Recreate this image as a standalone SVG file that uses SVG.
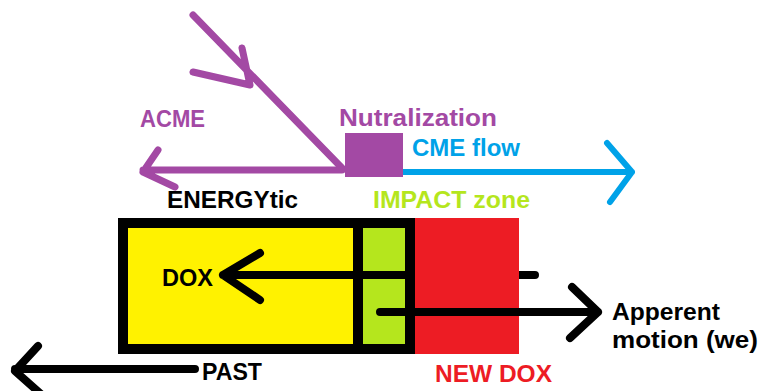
<svg xmlns="http://www.w3.org/2000/svg" width="760" height="391" viewBox="0 0 760 391">
<style>
text{font-family:"Liberation Sans",Arial,sans-serif;font-weight:bold;font-size:24px}
.p{stroke:#a349a4;stroke-width:7;fill:none;stroke-linecap:round;stroke-linejoin:round}
.b{stroke:#00a2e8;stroke-width:6;fill:none;stroke-linecap:round;stroke-linejoin:round}
.k{stroke:#000;stroke-width:8;fill:none;stroke-linecap:round;stroke-linejoin:round}
</style>
<rect width="760" height="391" fill="#fff"/>
<g id="box-dox">
<rect x="123" y="223" width="235" height="126" fill="#fff200" stroke="#000" stroke-width="10"/>
</g>
<g id="impact-zone">
<rect x="358" y="223" width="52" height="126" fill="#b5e61d" stroke="#000" stroke-width="10"/>
</g>
<g id="connectors">
<path class="k" d="M535,275 H223 M260,253 L223,275 L260,300"/>
<path class="p" d="M193,15 L342,168 M242,48 L250,85 L193,72"/>
<path class="p" d="M342,170 H143 M158,150 L143,172 L175,187"/>
<path class="b" d="M403,172 H632 M607,143 L632,172 L610,202"/>
<path class="k" d="M195,369 H15 M38,346 L15,371 L42,395"/>
</g>
<g id="new-dox">
<rect x="415" y="218" width="104" height="136" fill="#ed1c24"/>
</g>
<g id="connectors-front">
<path class="k" d="M380,312 H598 M572,287 L598,312 L570,338"/>
</g>
<g id="nutralization">
<rect x="345" y="133" width="58" height="44" fill="#a349a4"/>
</g>
<g id="labels">
<text x="140" y="127" fill="#a349a4" textLength="65" lengthAdjust="spacingAndGlyphs">ACME</text>
<text x="339" y="126" fill="#a349a4" textLength="158" lengthAdjust="spacingAndGlyphs">Nutralization</text>
<text x="412" y="156" fill="#00a2e8" textLength="108" lengthAdjust="spacingAndGlyphs">CME flow</text>
<text x="167" y="208" fill="#000" textLength="131" lengthAdjust="spacingAndGlyphs">ENERGYtic</text>
<text x="373" y="208" fill="#b5e61d" textLength="157" lengthAdjust="spacingAndGlyphs">IMPACT zone</text>
<text x="162" y="286" fill="#000" textLength="51" lengthAdjust="spacingAndGlyphs">DOX</text>
<text x="612" y="320" fill="#000" textLength="108" lengthAdjust="spacingAndGlyphs">Apperent</text>
<text x="612" y="348" fill="#000" textLength="146" lengthAdjust="spacingAndGlyphs">motion (we)</text>
<text x="435" y="382" fill="#ed1c24" textLength="117" lengthAdjust="spacingAndGlyphs">NEW DOX</text>
<text x="202" y="380" fill="#000" textLength="60" lengthAdjust="spacingAndGlyphs">PAST</text>
</g>
</svg>
